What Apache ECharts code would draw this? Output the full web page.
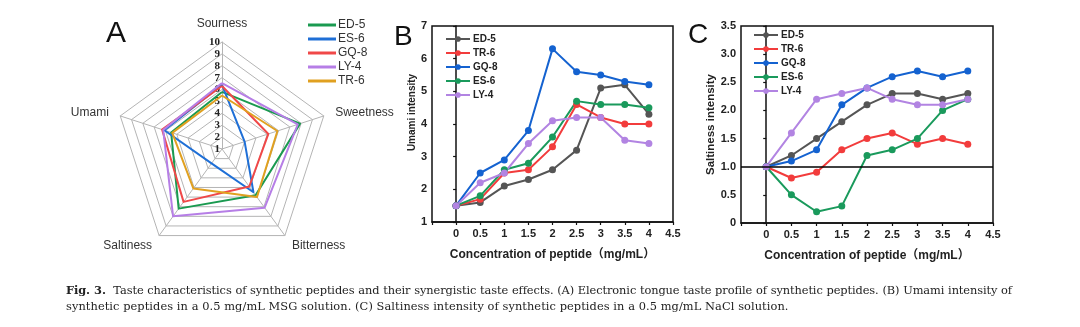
<!DOCTYPE html>
<html>
<head>
<meta charset="utf-8">
<script src="https://cdn.jsdelivr.net/npm/echarts@6/dist/echarts.min.js"></script>
<style>
  html, body { margin: 0; padding: 0; background: #fff; }
  body { width: 1080px; height: 327px; position: relative; overflow: hidden; }
  .chart { position: absolute; left: 0; top: 0; width: 1080px; height: 327px; }
  #caption { position: absolute; left: 66px; top: 282px; width: 946px;
    font-family: "DejaVu Serif", "Liberation Serif", serif; font-size: 11.4px; line-height: 16px; color: #222; }
  #cap1 { text-align: justify; text-align-last: justify; white-space: nowrap; letter-spacing: -0.1px; }
  #cap2 { white-space: nowrap; letter-spacing: 0.07px; }
</style>
</head>
<body>
<div id="chartA" class="chart"></div>
<div id="chartB" class="chart"></div>
<div id="chartC" class="chart"></div>
<div id="caption">
  <div id="cap1"><b>Fig. 3.</b>&nbsp; Taste characteristics of synthetic peptides and their synergistic taste effects. (A) Electronic tongue taste profile of synthetic peptides. (B) Umami intensity of</div>
  <div id="cap2">synthetic peptides in a 0.5 mg/mL MSG solution. (C) Saltiness intensity of synthetic peptides in a 0.5 mg/mL NaCl solution.</div>
</div>
<script>
// ---------------- DATA ----------------
// Panel A: radar (electronic tongue)
const radarAxes = ['Sourness', 'Umami', 'Saltiness', 'Bitterness', 'Sweetness'];
const radarMin = 1;
const radarMax = 10;
const radarNames = ['ED-5', 'ES-6', 'GQ-8', 'LY-4', 'TR-6'];
const radarED5 = [5.8, 5.5, 7.2, 5.8, 7.9];
const radarES6 = [6.4, 6.1, 2.5, 5.5, 3.0];
const radarGQ8 = [6.3, 6.3, 6.5, 4.9, 5.1];
const radarLY4 = [6.55, 6.2, 8.0, 7.1, 7.7];
const radarTR6 = [5.5, 5.4, 5.1, 6.0, 5.9];

// Panels B and C: concentration of peptide (mg/mL)
const concentrations = [0, 0.5, 1, 1.5, 2, 2.5, 3, 3.5, 4];
const lineNames = ['ED-5', 'TR-6', 'GQ-8', 'ES-6', 'LY-4'];
// Panel B: umami intensity
const umamiED5 = [1.5, 1.6, 2.1, 2.3, 2.6, 3.2, 5.1, 5.2, 4.3];
const umamiTR6 = [1.5, 1.7, 2.5, 2.6, 3.3, 4.6, 4.2, 4.0, 4.0];
const umamiGQ8 = [1.5, 2.5, 2.9, 3.8, 6.3, 5.6, 5.5, 5.3, 5.2];
const umamiES6 = [1.5, 1.8, 2.6, 2.8, 3.6, 4.7, 4.6, 4.6, 4.5];
const umamiLY4 = [1.5, 2.2, 2.5, 3.4, 4.1, 4.2, 4.2, 3.5, 3.4];
// Panel C: saltiness intensity
const saltED5 = [1.0, 1.2, 1.5, 1.8, 2.1, 2.3, 2.3, 2.2, 2.3];
const saltTR6 = [1.0, 0.8, 0.9, 1.3, 1.5, 1.6, 1.4, 1.5, 1.4];
const saltGQ8 = [1.0, 1.1, 1.3, 2.1, 2.4, 2.6, 2.7, 2.6, 2.7];
const saltES6 = [1.0, 0.5, 0.2, 0.3, 1.2, 1.3, 1.5, 2.0, 2.2];
const saltLY4 = [1.0, 1.6, 2.2, 2.3, 2.4, 2.2, 2.1, 2.1, 2.2];
const saltReference = 1.0;

// ---------------- STYLE ----------------
const SANS = '"Liberation Sans", Arial, "Noto Sans CJK SC", sans-serif';
const SERIF = '"Liberation Serif", "Times New Roman", serif';
const radarColors = { 'ED-5': '#1a9a50', 'ES-6': '#1f6fd6', 'GQ-8': '#f04848', 'LY-4': '#b67ee6', 'TR-6': '#e0a020' };
const lineColors = { 'ED-5': '#555555', 'TR-6': '#f23c3c', 'GQ-8': '#1462d0', 'ES-6': '#1a9a5c', 'LY-4': '#b284e2' };

// ---------------- PANEL A ----------------
const radarValues = { 'ED-5': radarED5, 'ES-6': radarES6, 'GQ-8': radarGQ8, 'LY-4': radarLY4, 'TR-6': radarTR6 };
const chartA = echarts.init(document.getElementById('chartA'), null, { renderer: 'canvas' });
chartA.setOption({
  animation: false,
  title: { text: 'A', left: 106, top: 19, padding: 0,
    textStyle: { fontFamily: SANS, fontSize: 30, fontWeight: 'normal', color: '#111' } },
  legend: {
    data: radarNames, orient: 'vertical', left: 308, top: 19, padding: 0,
    icon: 'rect', itemWidth: 28, itemHeight: 3, itemGap: 2,
    textStyle: { fontFamily: SANS, fontSize: 12, color: '#333', padding: [0, 0, 0, -3] }
  },
  radar: {
    center: [222, 149], radius: 107, startAngle: 90,
    shape: 'polygon', splitNumber: radarMax - radarMin,
    indicator: radarAxes.map((n, i) => ({
      name: n, min: radarMin, max: radarMax,
      axisLabel: i === 0 ? { show: true } : { show: false }
    })),
    axisName: { color: '#333', fontFamily: SANS, fontSize: 12 },
    nameGap: 12,
    splitLine: { lineStyle: { color: '#b4b4b4', width: 1 } },
    splitArea: { show: false },
    axisLine: { lineStyle: { color: '#b4b4b4', width: 1 } },
    axisTick: { show: false },
    axisLabel: { show: false, fontFamily: SERIF, fontWeight: 'bold', fontSize: 11, color: '#222', margin: 2 }
  },
  series: [{
    type: 'radar', symbol: 'none',
    data: radarNames.map(n => ({
      name: n, value: radarValues[n],
      lineStyle: { color: radarColors[n], width: 2 },
      itemStyle: { color: radarColors[n] }
    }))
  }]
});

// ---------------- PANELS B, C ----------------
function pairs(ys) { return concentrations.map((x, i) => [x, ys[i]]); }

function lineChart(el, cfg) {
  const chart = echarts.init(document.getElementById(el), null, { renderer: 'canvas' });
  const series = lineNames.map(n => ({
    name: n, type: 'line', data: pairs(cfg.values[n]),
    symbol: 'circle', symbolSize: 7,
    lineStyle: { color: lineColors[n], width: 2 },
    itemStyle: { color: lineColors[n] }
  }));
  if (cfg.refLine !== undefined) {
    series[0].markLine = {
      silent: true, symbol: 'none', label: { show: false },
      lineStyle: { color: '#000', width: 1.5, type: 'solid' },
      data: [{ yAxis: cfg.refLine }]
    };
  }
  chart.setOption({
    animation: false,
    title: { text: cfg.letter, left: cfg.letterX, top: cfg.letterY, padding: 0,
      textStyle: { fontFamily: SANS, fontSize: 28, fontWeight: 'normal', color: '#111' } },
    legend: {
      data: lineNames, orient: 'vertical', left: cfg.legendX, top: cfg.legendY, padding: 0,
      itemWidth: 24, itemHeight: 7, itemGap: 4,
      textStyle: { fontFamily: SANS, fontSize: 10, fontWeight: 'bold', color: '#222', padding: [0, 0, 0, -2] }
    },
    grid: { left: cfg.grid[0], top: cfg.grid[1], width: cfg.grid[2], height: cfg.grid[3],
      show: true, borderColor: '#111', borderWidth: 1.5, containLabel: false },
    xAxis: {
      type: 'value', min: -0.5, max: 4.5, interval: 0.5,
      name: 'Concentration of peptide（mg/mL）', nameLocation: 'middle', nameGap: 27,
      nameTextStyle: { fontFamily: SANS, fontSize: 12, fontWeight: 'bold', color: '#222' },
      axisLine: { lineStyle: { color: '#111', width: 1.5 } },
      axisTick: { inside: false, length: 3, lineStyle: { color: '#111', width: 1.2 } },
      axisLabel: { fontFamily: SANS, fontSize: 11, fontWeight: 'bold', color: '#222', margin: 6,
        formatter: v => (v < 0 ? '' : String(v)) },
      splitLine: { show: false }
    },
    yAxis: {
      type: 'value', min: cfg.yMin, max: cfg.yMax, interval: cfg.yInterval,
      name: cfg.yName, nameLocation: 'middle', nameGap: cfg.yNameGap,
      nameTextStyle: { fontFamily: SANS, fontSize: cfg.yNameSize, fontWeight: 'bold', color: '#222',
        padding: cfg.yNamePad },
      axisLine: { show: true, lineStyle: { color: '#111', width: 1.5 } },
      axisTick: { show: true, inside: false, length: 3, lineStyle: { color: '#111', width: 1.2 } },
      axisLabel: { fontFamily: SANS, fontSize: 11, fontWeight: 'bold', color: '#222', margin: 5,
        formatter: cfg.yFormatter },
      splitLine: { show: false }
    },
    series: series
  });
  return chart;
}

lineChart('chartB', {
  letter: 'B', letterX: 394, letterY: 23,
  legendX: 445, legendY: 34,
  grid: [432, 26, 241, 196],
  yMin: 1, yMax: 7, yInterval: 1,
  yName: 'Umami intensity', yNameGap: 15, yNameSize: 10, yNamePad: [0, 0, 0, 23],
  yFormatter: v => String(v),
  values: { 'ED-5': umamiED5, 'TR-6': umamiTR6, 'GQ-8': umamiGQ8, 'ES-6': umamiES6, 'LY-4': umamiLY4 }
});

lineChart('chartC', {
  letter: 'C', letterX: 688, letterY: 21,
  legendX: 753, legendY: 30,
  grid: [741, 26, 252, 197],
  yMin: 0, yMax: 3.5, yInterval: 0.5,
  yName: 'Saltiness intensity', yNameGap: 23, yNameSize: 11.5, yNamePad: [0, 0, 0, 0],
  yFormatter: v => (v === 0 ? '0' : v.toFixed(1)),
  refLine: saltReference,
  values: { 'ED-5': saltED5, 'TR-6': saltTR6, 'GQ-8': saltGQ8, 'ES-6': saltES6, 'LY-4': saltLY4 }
});
</script>
</body>
</html>
